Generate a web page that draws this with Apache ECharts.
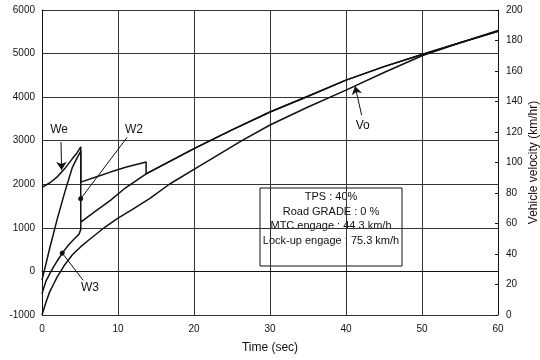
<!DOCTYPE html>
<html>
<head>
<meta charset="utf-8">
<script src="https://cdn.jsdelivr.net/npm/echarts@6/dist/echarts.min.js"></script>
<style>
  html, body { margin: 0; padding: 0; background: #fff; }
  #chart { width: 540px; height: 360px; }
</style>
</head>
<body>
<div id="chart"></div>
<script>
// engine speed We (rpm)
const weTime = [0, 1, 2, 3, 4, 4.6, 5.1, 5.1, 7, 9, 11, 13.7, 13.7, 15, 20, 25, 30, 35, 40, 45, 50, 55, 60];
const weRpm  = [1930, 2030, 2170, 2360, 2590, 2720, 2860, 2050, 2160, 2280, 2390, 2510, 2240, 2360, 2820, 3250, 3660, 4020, 4390, 4700, 4980, 5250, 5510];

// W2 (rpm)
const w2Time = [0, 1, 2, 3, 4, 4.6, 5.1, 5.1, 7, 9, 11, 13.7, 15, 20, 25, 30, 35, 40, 45, 50, 55, 60];
const w2Rpm  = [-200, 520, 1200, 1820, 2390, 2600, 2760, 1130, 1380, 1630, 1920, 2240, 2360, 2820, 3250, 3660, 4020, 4390, 4700, 4980, 5250, 5510];

// W3 (rpm)
const w3Time = [0, 0.5, 1, 1.5, 2, 2.67, 3.46, 4.2, 4.85, 5.1, 5.1];
const w3Rpm  = [-510, -230, -60, 100, 240, 420, 600, 740, 850, 960, 1130];

// vehicle velocity Vo (km/h, right axis)
const voTime = [0, 0.5, 1, 1.5, 2, 2.5, 3, 4, 5.1, 6, 8.3, 10, 11.8, 14.2, 16.8, 20, 26.3, 30, 35, 40, 45, 50, 55, 60];
const voKmh  = [0, 8, 15, 20, 25, 29, 33, 39.5, 44.8, 48.5, 57.7, 63.5, 68.9, 76.5, 85.9, 95.5, 114.3, 124.6, 136.4, 147.5, 159, 170, 178.5, 186.5];

const boxLines = ['TPS : 40%', 'Road GRADE : 0 %', 'MTC engage : 44.3 km/h', 'Lock-up engage : 75.3 km/h'];

const zip = (xs, ys) => xs.map((x, i) => [x, ys[i]]);
const ink = '#111';
const font = 'Liberation Sans, Arial, sans-serif';
const plain = v => String(v);

const label = (text, coord) => ({
    coord: coord, symbol: 'circle', symbolSize: 1,
    itemStyle: { color: 'rgba(0,0,0,0)' },
    label: { show: true, formatter: text, color: ink, fontSize: 12, fontFamily: font, position: 'inside' }
});

// leader line from a label to the curve, ending in an arrow or a dot
const pointer = (from, to, head) => ({
    symbol: ['none', head],
    symbolSize: head === 'arrow' ? 8 : 5,
    silent: true,
    label: { show: false },
    itemStyle: { color: ink },
    lineStyle: { color: ink, width: 1, type: 'solid' },
    emphasis: { disabled: true },
    data: [[{ coord: from }, { coord: to }]]
});

const curve = (name, data, extra) => Object.assign({
    name: name,
    type: 'line',
    data: data,
    showSymbol: false,
    symbol: 'none',
    lineStyle: { color: ink, width: 1.5 },
    itemStyle: { color: ink },
    z: 3
}, extra);

const chart = echarts.init(document.getElementById('chart'));

chart.setOption({
    animation: false,
    backgroundColor: '#fff',
    grid: { left: 42, right: 42, top: 10, bottom: 45, outerBoundsMode: 'none' },
    xAxis: {
        type: 'value', min: 0, max: 60, interval: 10,
        name: 'Time (sec)', nameLocation: 'middle', nameGap: 27,
        nameTextStyle: { color: ink, fontSize: 12, fontFamily: font },
        axisLine: { show: true, lineStyle: { color: ink, width: 1 } },
        axisTick: { show: false },
        axisLabel: { color: ink, fontSize: 10, fontFamily: font, margin: 9, formatter: plain },
        splitLine: { show: true, lineStyle: { color: '#333', width: 1 } }
    },
    yAxis: [
        {
            type: 'value', min: -1000, max: 6000, interval: 1000,
            axisLine: { show: true, lineStyle: { color: ink, width: 1 } },
            axisTick: { show: false },
            axisLabel: { color: ink, fontSize: 10, fontFamily: font, margin: 7, formatter: plain },
            splitLine: { show: true, lineStyle: { color: '#333', width: 1 } }
        },
        {
            type: 'value', min: 0, max: 200, interval: 20, position: 'right',
            name: 'Vehicle velocity (km/hr)', nameLocation: 'middle', nameGap: 30, nameRotate: 90,
            nameMoveOverlap: false,
            nameTextStyle: { color: ink, fontSize: 12, fontFamily: font },
            axisLine: { show: true, lineStyle: { color: ink, width: 1 } },
            axisTick: { show: true, inside: true, length: 3, lineStyle: { color: ink } },
            axisLabel: { color: ink, fontSize: 10, fontFamily: font, margin: 8, formatter: plain },
            splitLine: { show: false }
        }
    ],
    series: [
        curve('We', zip(weTime, weRpm), {
            markPoint: { silent: true, data: [label('We', [2.24, 3260])] },
            markLine: pointer([2.5, 2970], [2.58, 2330], 'arrow')
        }),
        curve('W2', zip(w2Time, w2Rpm), {
            markPoint: { silent: true, data: [label('W2', [12.1, 3260])] },
            markLine: pointer([11.2, 3075], [5.1, 1670], 'circle')
        }),
        curve('W3', zip(w3Time, w3Rpm), {
            markPoint: { silent: true, data: [label('W3', [6.3, -380])] },
            markLine: pointer([5.43, -207], [2.67, 420], 'circle')
        }),
        curve('Vo', zip(voTime, voKmh), {
            yAxisIndex: 1,
            markPoint: { silent: true, data: [label('Vo', [42.2, 124])] },
            markLine: pointer([42.06, 131], [41.2, 150], 'arrow')
        })
    ],
    graphic: [
        {
            type: 'group', z: 100,
            children: [
                { type: 'rect', shape: { x: 260, y: 188, width: 142, height: 78 },
                  style: { fill: '#fff', stroke: ink, lineWidth: 1 } }
            ].concat(boxLines.map((t, i) => ({
                type: 'text', x: 331, y: 197 + i * 14.5,
                style: { text: t, fill: ink, font: '11px ' + font, align: 'center', verticalAlign: 'middle' }
            })))
        }
    ]
});
</script>
</body>
</html>
